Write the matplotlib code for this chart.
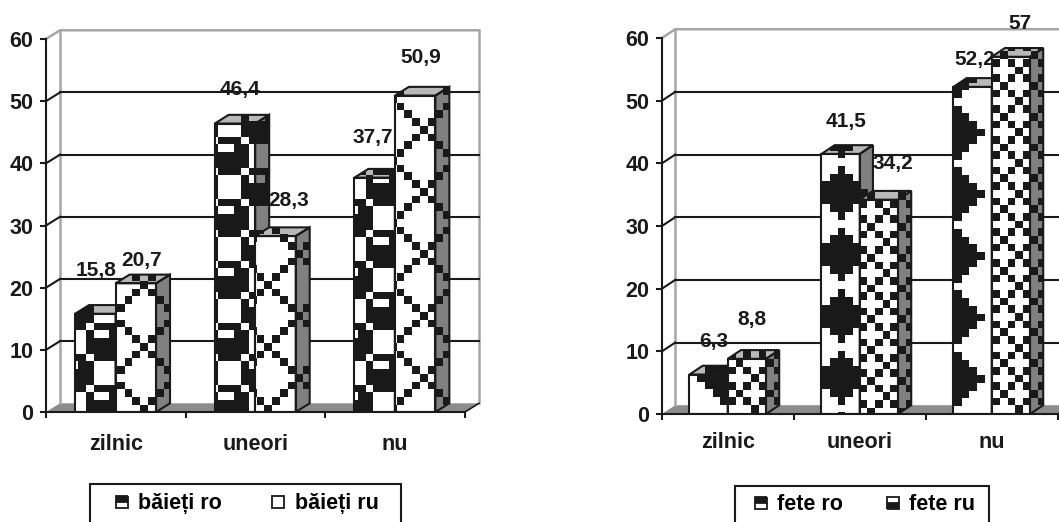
import numpy as np
import matplotlib

matplotlib.use("Agg")
import matplotlib.pyplot as plt
from matplotlib.colors import ListedColormap
from matplotlib.lines import Line2D
from matplotlib.patches import Polygon, Rectangle

categories = ["zilnic", "uneori", "nu"]
y_ticks = [0, 10, 20, 30, 40, 50, 60]

boys_ro = [15.8, 46.4, 37.7]
boys_ru = [20.7, 28.3, 50.9]
girls_ro = [6.3, 41.5, 52.2]
girls_ru = [8.8, 34.2, 57]

W, H = 1059, 522
DX, DY = 0.1, 1.4
BAR_OFFSET, BAR_W = 0.208, 0.29
INK = "#1a1a1a"

plt.rcParams["font.family"] = ["Liberation Sans", "DejaVu Sans"]
plt.rcParams["font.weight"] = "bold"

# fill patterns, 1 = black cell
TILE_CHECK = np.array(
    [
        [0, 1, 1, 1, 0, 1, 1, 1],
        [1, 0, 0, 1, 1, 0, 0, 0],
        [1, 1, 1, 1, 1, 0, 0, 0],
        [1, 1, 1, 1, 1, 0, 0, 0],
        [0, 1, 1, 1, 0, 1, 1, 1],
        [1, 0, 0, 0, 1, 0, 0, 1],
        [1, 0, 0, 0, 1, 1, 1, 1],
        [1, 0, 0, 0, 1, 1, 1, 1],
    ]
)
TILE_CROSS = np.array(
    [[1 if (r - c) % 8 == 0 or (r + c) % 8 == 0 else 0 for c in range(8)] for r in range(8)]
)
TILE_DIAMOND = np.array(
    [[1 if abs(r - 3) + abs(c - 3) <= 3 else 0 for c in range(8)] for r in range(8)]
)
TILE_DOTS = np.array([[1, 0, 1, 0], [0, 1, 0, 0], [1, 0, 1, 0], [0, 0, 0, 1]])

BLACK_ONLY = ListedColormap([(0, 0, 0, 0), (0.1, 0.1, 0.1, 1)])


def to_data(ax, px, py):
    return ax.transData.inverted().transform((px, H - py))


def draw_bar(ax, x0, value, tile, anchor, cell, z):
    x1 = x0 + BAR_W
    front = [(x0, 0), (x1, 0), (x1, value), (x0, value)]
    side = [(x1, 0), (x1 + DX, DY), (x1 + DX, value + DY), (x1, value)]
    top = [(x0, value), (x1, value), (x1 + DX, value + DY), (x0 + DX, value + DY)]
    outline = [(x0, 0), (x1, 0), (x1 + DX, DY), (x1 + DX, value + DY), (x0 + DX, value + DY), (x0, value)]

    ax.add_patch(Polygon(front, fc="white", ec="none", zorder=z))
    ax.add_patch(Polygon(side, fc="#808080", ec="none", zorder=z))
    ax.add_patch(Polygon(top, fc="#b8b8b8", ec="none", zorder=z))

    # pattern is laid out in pixels, then placed on the data scale
    n = tile.shape[0]
    reps = 128 // n
    left, upper = to_data(ax, anchor[0] - n * cell * (reps // 2), anchor[1] - n * cell * (reps // 2))
    right, lower = to_data(ax, anchor[0] + n * cell * (reps // 2), anchor[1] + n * cell * (reps // 2))
    im = ax.imshow(
        np.tile(tile, (reps, reps)),
        extent=(left, right, lower, upper),
        origin="upper",
        cmap=BLACK_ONLY,
        vmin=0,
        vmax=1,
        aspect="auto",
        interpolation="nearest",
        zorder=z + 0.1,
    )
    clip = Polygon(outline, transform=ax.transData)
    im.set_clip_path(clip)

    lines = dict(fc="none", ec=INK, lw=1.5, joinstyle="miter", zorder=z + 0.2)
    ax.add_patch(Polygon(front, **lines))
    ax.add_patch(Polygon(side, **lines))
    ax.add_patch(Polygon(top, **lines))


def draw_panel(box, ro, ru, ro_tile, ru_tile, ro_anchor, ru_anchor, cell, offsets, cat_pad, fig):
    x_left, x_right, y_zero, y_sixty = box
    ax = fig.add_axes(
        [x_left / W, 1 - y_zero / H, (x_right - x_left) / W, (y_zero - y_sixty) / H]
    )
    ax.set_xlim(0, 3)
    ax.set_ylim(0, 60)
    ax.set_autoscale_on(False)
    ax.patch.set_visible(False)

    # back wall and floor
    wall = "#a6a6a6"
    ax.add_patch(
        Polygon([(0, 0), (3, 0), (3 + DX, DY), (DX, DY)], fc="#8c8c8c", ec="none", zorder=1, clip_on=False)
    )
    ax.plot([DX, DX], [DY, 60 + DY], color=wall, lw=1.8, zorder=1, clip_on=False)
    ax.plot([3 + DX, 3 + DX], [DY, 60 + DY], color=wall, lw=1.8, zorder=1, clip_on=False)
    ax.plot([0, DX, 3 + DX], [60, 60 + DY, 60 + DY], color=wall, lw=1.8, zorder=1, clip_on=False)
    for v in y_ticks[1:-1]:
        ax.plot([DX, 3 + DX], [v + DY, v + DY], color=INK, lw=1.5, zorder=1.2, clip_on=False)
        ax.plot([0, DX], [v, v + DY], color=INK, lw=1.5, zorder=1.2, clip_on=False)
    ax.plot([3, 3 + DX], [0, DY], color=INK, lw=1.2, zorder=1.2, clip_on=False)

    for i in range(len(categories)):
        x0 = i + BAR_OFFSET
        draw_bar(ax, x0, ro[i], ro_tile, ro_anchor[i], cell, 3 + i)
        draw_bar(ax, x0 + BAR_W, ru[i], ru_tile, ru_anchor[i], cell, 3.5 + i)

    values = ro + ru
    xs = [i + BAR_OFFSET + BAR_W / 2 for i in range(3)] + [i + BAR_OFFSET + 1.5 * BAR_W for i in range(3)]
    for x, v, off in zip(xs, values, offsets):
        ax.annotate(
            str(v).replace(".", ","),
            xy=(x, v),
            xytext=off,
            textcoords="offset pixels",
            ha="center",
            va="center",
            fontsize=15,
            color=INK,
            zorder=10,
            annotation_clip=False,
        )

    for s in ["top", "right"]:
        ax.spines[s].set_visible(False)
    for s in ["left", "bottom"]:
        ax.spines[s].set_linewidth(1.5)
        ax.spines[s].set_color(INK)
        ax.spines[s].set_zorder(8)

    ax.set_yticks(y_ticks)
    ax.tick_params(axis="y", length=4, width=1.5, pad=5, labelsize=15.5, labelcolor=INK, color=INK)
    ax.set_xticks([0, 1, 2, 3])
    ax.set_xticklabels([])
    ax.set_xticks([i + 0.5 for i in range(3)], categories, minor=True)
    ax.tick_params(axis="x", which="major", length=4, width=1.5, color=INK)
    ax.tick_params(axis="x", which="minor", length=0, pad=cat_pad, labelsize=15.5, labelcolor=INK)
    return ax


def add_legend(ax, labels, fills, box, left, mid_y, spacing):
    x0, x1, top = box
    # frame runs off the bottom of the picture, as in the scan
    ax.figure.add_artist(
        Rectangle(
            (x0 / W, 1 - (top + 45) / H),
            (x1 - x0) / W,
            45 / H,
            transform=ax.figure.transFigure,
            fc="white",
            ec=INK,
            lw=1.5,
        )
    )
    handles = []
    for fill in fills:
        handles.append(
            Line2D(
                [], [],
                ls="none",
                marker="s",
                ms=8.5,
                fillstyle=fill,
                mfc=INK,
                mfcalt="white",
                mec=INK,
                mew=1.3,
            )
        )
    leg = ax.legend(
        handles,
        labels,
        ncol=2,
        loc="center left",
        bbox_to_anchor=(left / W, 1 - mid_y / H),
        bbox_transform=ax.figure.transFigure,
        frameon=False,
        fontsize=15.5,
        handlelength=0.7,
        handletextpad=0.4,
        columnspacing=spacing,
        borderpad=0,
        borderaxespad=0,
    )
    leg.set_zorder(20)
    leg.remove()
    ax.figure.add_artist(leg)


fig = plt.figure(figsize=(W / 100, H / 100), dpi=100)

ax1 = draw_panel(
    (46, 465, 412, 39),
    boys_ro,
    boys_ru,
    TILE_CHECK,
    TILE_CROSS,
    [(210, 136.7)] * 3,
    [(264, 281)] * 3,
    7.75,
    [(1, 43.7), (5, 34.4), (-2, 40.5), (5.5, 23), (13, 36), (6, 38.4)],
    16,
    fig,
)
ax2 = draw_panel(
    (662, 1058, 414, 38),
    girls_ro,
    girls_ru,
    TILE_DIAMOND,
    TILE_DOTS,
    [(697.2, 351), (814.6, 166), (930.9, 105.7)],
    [(743.3, 366.7), (875, 200), (1007.7, 59)],
    7.7,
    [(5, 33.4), (5, 32.4), (2, 27.2), (5, 39.7), (14, 36.2), (9, 33)],
    13,
    fig,
)

add_legend(ax1, ["băieți ro", "băieți ru"], ["top", "none"], (90, 401, 484), 114, 504, 2.3)
add_legend(ax2, ["fete ro", "fete ru"], ["top", "bottom"], (735, 989, 486), 753, 505, 2.0)

fig.savefig("out.png", dpi=100)
